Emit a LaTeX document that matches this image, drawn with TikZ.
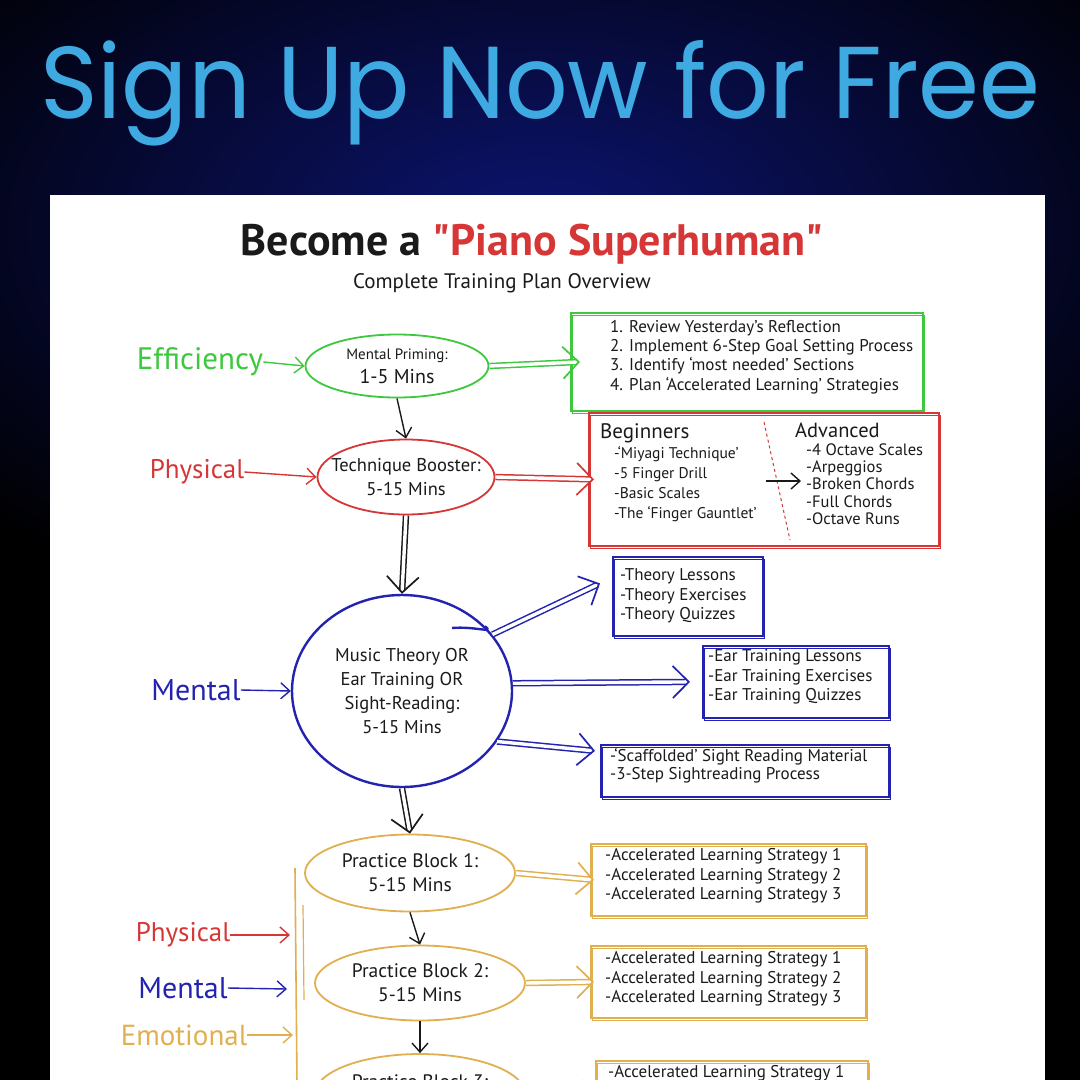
\documentclass[tikz,border=0pt]{standalone}
\usepackage{fontspec}
\setmainfont{PT Sans}
\newfontfamily\titlefont{Poppins}
\usetikzlibrary{shapes.geometric,arrows.meta}
\definecolor{gr}{HTML}{3DC83D}
\definecolor{rd}{HTML}{D63636}
\definecolor{bl}{HTML}{2323B0}
\definecolor{gd}{HTML}{E0B050}
\definecolor{sky}{HTML}{3FA9E2}
\definecolor{navy}{HTML}{0C1470}
\definecolor{ink}{HTML}{1A1A1A}
\newcommand{\fs}[2]{\fontsize{#1}{#2}\selectfont}
\newcommand{\sq}{{\addfontfeature{Ligatures=TeXOff}"}}
\tikzset{
  box/.style={draw=#1, line width=1.8pt, rectangle, inner sep=0pt, anchor=north west,
    postaction={draw=#1, line width=0.8pt, transform canvas={shift={(1.5pt,-2.5pt)}}}},
  ell/.style={draw=#1, line width=1.8pt, ellipse, inner sep=0pt},
  etxt/.style={align=center, text=ink, font=\fs{19.5}{24}},
  btxt/.style={align=left, anchor=west, text=ink, font=\fs{17}{19.3}, inner sep=0pt},
  side/.style={text=#1, inner sep=0pt},
  sarrow/.style={draw=#1, line width=1.4pt, -{Straight Barb[length=9pt,width=16pt]}},
  darrow/.style={draw=#1, line width=6.4pt, shorten >=3pt,
    postaction={draw=white, line width=3.4pt},
    postaction={draw=white, line width=0.2pt, shorten >=0pt,
      -{Straight Barb[color=#1, line width=1.7pt, length=16pt, width=32pt]}}},
}
\begin{document}
\begin{tikzpicture}[x=1pt,y=-1pt]
\useasboundingbox (0,0) rectangle (1080,1080);
\clip (0,0) rectangle (1080,1080);
% background
\fill[black] (0,0) rectangle (1080,1080);
\shade[inner color=navy, outer color=black] (540,230) ellipse [x radius=760, y radius=420];
\node[anchor=base west, text=sky, inner sep=0pt] (signup) at (40,118)
  {\resizebox{1000pt}{78pt}{\titlefont Sign Up Now for Free}};
% panel
\fill[white] (50,195) rectangle (1045,1085);
\node[font=\fs{44}{48}\bfseries, text=ink] (title) at (532,244)
  {Become a \textcolor{rd}{\sq Piano Superhuman\sq}};
\node[font=\fs{21}{24}, text=ink] (subtitle) at (502,283) {Complete Training Plan Overview};

% ---------- Efficiency row
\node[side=gr, font=\fs{31}{34}] (eff) at (200,362) {Efficiency};
\node[ell=gr, minimum width=183pt, minimum height=63pt] (mp) at (397,366) {};
\node[etxt, font=\fs{15}{24}] (mpt) at (mp) {Mental Priming:\\{\fs{20}{24}1-5 Mins}};
\node[box=gr, minimum width=352pt, minimum height=98pt] (gbox) at (570,312) {};
\node[btxt] (gtxt) at (610,357) {1. Review Yesterday's Reflection\\2. Implement 6-Step Goal Setting Process\\3. Identify `most needed' Sections\\4. Plan `Accelerated Learning' Strategies};
\draw[sarrow=gr] (eff.east) -- (mp.west);
\draw[darrow=gr] (mp.east) -- ([xshift=10pt]gbox.west);

% ---------- Physical row
\node[side=rd, font=\fs{27}{30}] (phys) at (197,472) {Physical};
\node[ell=rd, minimum width=177pt, minimum height=75pt] (tb) at (406,477) {};
\node[etxt, font=\fs{18.5}{24}] (tbt) at (tb) {Technique Booster:\\5-15 Mins};
\node[box=rd, minimum width=350pt, minimum height=133pt] (rbox) at (588,412) {};
\node[btxt, font=\fs{15.5}{20}] (beg) at (600,473)
  {{\fs{21}{20}Beginners}\\\hspace*{14pt}-`Miyagi Technique'\\\hspace*{14pt}-5 Finger Drill\\\hspace*{14pt}-Basic Scales\\\hspace*{14pt}-The `Finger Gauntlet'};
\node[btxt, font=\fs{16.5}{17.4}] (adv) at (795,474)
  {{\fs{20.5}{20}Advanced}\\\hspace*{11pt}-4 Octave Scales\\\hspace*{11pt}-Arpeggios\\\hspace*{11pt}-Broken Chords\\\hspace*{11pt}-Full Chords\\\hspace*{11pt}-Octave Runs};
\coordinate (dv1) at (764,422);
\coordinate (dv2) at (790,540);
\draw[rd, dashed, line width=1pt] (dv1) -- (dv2);
\coordinate (ba1) at (766,481);
\coordinate (ba2) at (801,481);
\draw[sarrow=ink] (ba1) -- (ba2);
\draw[sarrow=rd] (phys.east) -- (tb.west);
\draw[darrow=rd] (tb.east) -- ([xshift=6pt]rbox.west);
\draw[sarrow=ink] (mp.south) -- (tb.north);

% ---------- Mental row
\node[side=bl, font=\fs{30}{33}] (ment) at (196,690) {Mental};
\node[ell=bl, line width=2.4pt, minimum width=220pt, minimum height=192pt] (mt) at (402,691) {};
\coordinate (mtk) at (452,628);
\draw[bl, line width=2.4pt] (mtk) .. controls (475,626) and (495,634) .. (mt.38);
\node[etxt, font=\fs{18.5}{24}] (mtt) at (mt) {Music Theory OR\\Ear Training OR\\Sight-Reading:\\5-15 Mins};
\node[box=bl, minimum width=150pt, minimum height=79pt] (thbox) at (612,556) {};
\node[btxt] (tht) at (620,596) {-Theory Lessons\\-Theory Exercises\\-Theory Quizzes};
\node[box=bl, minimum width=186pt, minimum height=72pt] (earbox) at (702,645) {};
\node[btxt] (eart) at (708,677) {-Ear Training Lessons\\-Ear Training Exercises\\-Ear Training Quizzes};
\node[box=bl, minimum width=288pt, minimum height=52pt] (sbox) at (600,744) {};
\node[btxt, font=\fs{17}{18}] (st) at (610,766) {-`Scaffolded' Sight Reading Material\\-3-Step Sightreading Process};
\draw[sarrow=bl] (ment.east) -- (mt.west);
\draw[darrow=ink] (tb.south) -- (mt.north);
\draw[darrow=bl] (mt.32) -- ([xshift=-12pt,yshift=13pt]thbox.west);
\draw[darrow=bl] (mt.4) -- ([xshift=-12pt]earbox.west);
\draw[darrow=bl] (mt.-28) -- ([xshift=-5pt,yshift=20pt]sbox.west);

% ---------- Practice blocks
\node[ell=gd, minimum width=210pt, minimum height=77pt] (pb1) at (410,873) {};
\node[etxt] (pb1t) at (pb1) {Practice Block 1:\\5-15 Mins};
\node[ell=gd, minimum width=210pt, minimum height=75pt] (pb2) at (420,983) {};
\node[etxt] (pb2t) at (pb2) {Practice Block 2:\\5-15 Mins};
\node[ell=gd, minimum width=210pt, minimum height=80pt] (pb3) at (420,1094) {};
\node[etxt] (pb3t) at (pb3) {Practice Block 3:\\5-15 Mins};
\node[box=gd, minimum width=275pt, minimum height=72pt] (b1) at (590,843) {};
\node[btxt] (b1t) at (605,876) {-Accelerated Learning Strategy 1\\-Accelerated Learning Strategy 2\\-Accelerated Learning Strategy 3};
\node[box=gd, minimum width=275pt, minimum height=72pt] (b2) at (590,945) {};
\node[btxt] (b2t) at (605,979) {-Accelerated Learning Strategy 1\\-Accelerated Learning Strategy 2\\-Accelerated Learning Strategy 3};
\node[box=gd, minimum width=272pt, minimum height=72pt] (b3) at (595,1060) {};
\node[btxt] (b3t) at (608,1093) {-Accelerated Learning Strategy 1\\-Accelerated Learning Strategy 2\\-Accelerated Learning Strategy 3};
\draw[darrow=ink] (mt.south) -- (pb1.north);
\draw[sarrow=ink] (pb1.south) -- (pb2.north);
\draw[sarrow=ink] (pb2.south) -- (pb3.north);
\draw[darrow=gd] (pb1.east) -- ([xshift=4pt]b1.west);
\draw[darrow=gd] (pb2.east) -- ([xshift=4pt]b2.west);
\draw[darrow=gd] (pb3.east) -- ([xshift=4pt]b3.west);

% bracket
\coordinate (brA) at (295,868);
\coordinate (brB) at (297,1085);
\coordinate (brC) at (303,905);
\coordinate (brD) at (304,1000);
\draw[gd, line width=1.6pt] (brA) -- (brB);
\draw[gd, line width=1.2pt] (brC) -- (brD);
\node[side=rd, font=\fs{27}{30}] (phys2) at (183,935) {Physical};
\node[side=bl, font=\fs{30}{33}] (ment2) at (183,988) {Mental};
\node[side=gd, font=\fs{29}{33}] (emo) at (184,1035) {Emotional};
\coordinate (bp1) at (290,935);
\coordinate (bp2) at (287,989);
\coordinate (bp3) at (293,1035);
\draw[sarrow=rd] (phys2.east) -- (bp1);
\draw[sarrow=bl] (ment2.east) -- (bp2);
\draw[sarrow=gd] (emo.east) -- (bp3);
\end{tikzpicture}
\end{document}
